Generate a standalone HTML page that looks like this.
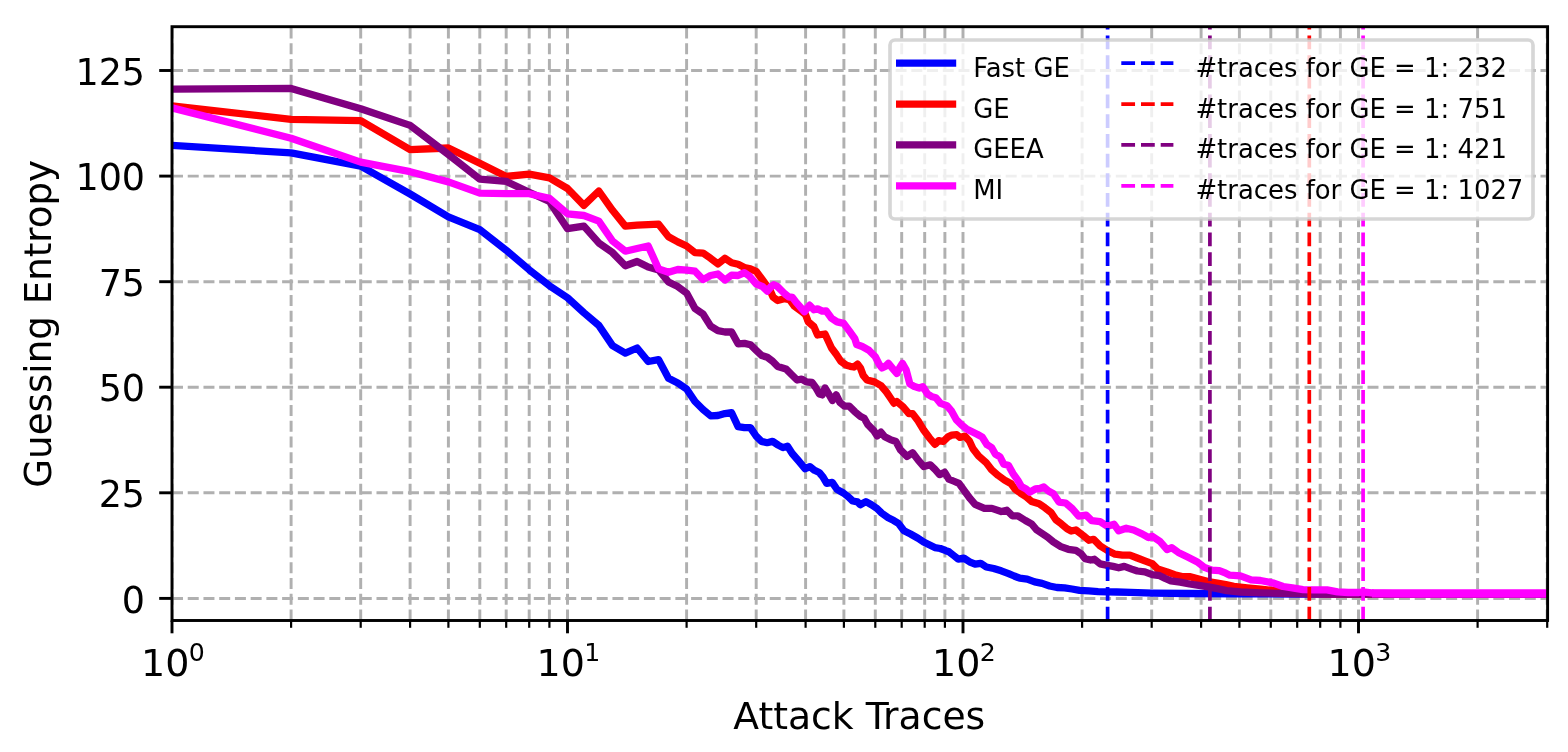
<!DOCTYPE html><html><head><meta charset="utf-8"><title>Guessing Entropy</title>
<style>html,body{margin:0;padding:0;background:#fff}body{width:1568px;height:752px;overflow:hidden}svg{display:block}text{font-family:"DejaVu Sans","Liberation Sans",sans-serif;fill:#000}</style></head><body>
<svg width="1568" height="752" viewBox="0 0 1568 752">
<rect width="1568" height="752" fill="#fff"/>
<defs><clipPath id="ax"><rect x="172.0" y="26.7" width="1375.6" height="593.8"/></clipPath></defs>
<g clip-path="url(#ax)" stroke="#b0b0b0" stroke-width="2.95" stroke-dasharray="11 4.73" fill="none">
<path d="M172.0 620.5V26.7"/>
<path d="M291.1 620.5V26.7"/>
<path d="M360.7 620.5V26.7"/>
<path d="M410.1 620.5V26.7"/>
<path d="M448.4 620.5V26.7"/>
<path d="M479.8 620.5V26.7"/>
<path d="M506.2 620.5V26.7"/>
<path d="M529.2 620.5V26.7"/>
<path d="M549.4 620.5V26.7"/>
<path d="M567.5 620.5V26.7"/>
<path d="M686.6 620.5V26.7"/>
<path d="M756.2 620.5V26.7"/>
<path d="M805.6 620.5V26.7"/>
<path d="M843.9 620.5V26.7"/>
<path d="M875.3 620.5V26.7"/>
<path d="M901.7 620.5V26.7"/>
<path d="M924.7 620.5V26.7"/>
<path d="M944.9 620.5V26.7"/>
<path d="M963.0 620.5V26.7"/>
<path d="M1082.1 620.5V26.7"/>
<path d="M1151.7 620.5V26.7"/>
<path d="M1201.1 620.5V26.7"/>
<path d="M1239.4 620.5V26.7"/>
<path d="M1270.8 620.5V26.7"/>
<path d="M1297.2 620.5V26.7"/>
<path d="M1320.2 620.5V26.7"/>
<path d="M1340.4 620.5V26.7"/>
<path d="M1358.5 620.5V26.7"/>
<path d="M1477.6 620.5V26.7"/>
<path d="M1547.2 620.5V26.7"/>
<path d="M172.0 598.4H1547.6"/>
<path d="M172.0 492.8H1547.6"/>
<path d="M172.0 387.2H1547.6"/>
<path d="M172.0 281.7H1547.6"/>
<path d="M172.0 176.1H1547.6"/>
<path d="M172.0 70.5H1547.6"/>
</g>
<g clip-path="url(#ax)" fill="none" stroke-width="7.3" stroke-linejoin="round" stroke-linecap="butt">
<path d="M172.0 145.4 L291.1 152.9 L360.7 166.1 L410.1 194.0 L448.4 216.8 L479.8 229.6 L506.3 250.3 L529.2 269.8 L549.4 285.7 L567.5 297.8 L583.9 312.7 L598.8 325.4 L612.5 345.6 L625.3 353.1 L637.1 348.0 L648.2 361.5 L658.6 359.6 L668.5 378.2 L677.8 382.9 L686.6 389.0 L695.0 401.5 L703.0 409.5 L710.6 415.8 L717.9 415.5 L724.9 413.6 L731.6 412.7 L738.1 426.6 L744.4 427.6 L750.4 427.6 L755.9 435.8 L761.5 441.4 L767.1 442.7 L772.6 441.4 L778.2 445.1 L782.9 447.6 L787.5 446.1 L792.2 453.5 L798.7 461.0 L805.2 468.8 L809.9 466.6 L814.5 470.3 L819.2 472.5 L822.9 476.8 L826.7 483.3 L832.2 482.4 L836.9 489.3 L843.4 493.0 L848.1 496.7 L852.7 501.0 L857.4 501.9 L860.2 504.7 L865.9 501.6 L871.4 504.7 L877.0 508.5 L881.7 513.1 L888.2 517.8 L893.8 520.6 L898.4 523.4 L904.0 530.8 L910.5 534.0 L918.0 538.2 L923.6 542.0 L929.2 544.8 L934.8 547.6 L940.3 548.5 L945.9 550.7 L949.0 551.8 L953.7 555.5 L958.3 559.2 L963.9 558.1 L969.5 561.8 L975.1 564.2 L980.7 563.3 L986.3 567.0 L993.7 568.5 L1001.2 570.8 L1008.6 573.6 L1014.2 576.0 L1019.8 578.2 L1027.2 579.1 L1034.7 581.9 L1042.1 583.4 L1049.6 586.0 L1057.0 587.5 L1064.6 587.9 L1072.0 589.0 L1079.5 590.3 L1088.8 590.9 L1098.1 591.6 L1107.4 591.8 L1116.7 592.0 L1130.5 592.4 L1152.2 593.1 L1189.5 593.5 L1240.5 593.8 L1300.6 594.0 L1548.0 594.0" stroke="#0000ff"/>
<path d="M172.0 105.9 L291.1 119.3 L360.7 120.6 L410.1 149.7 L448.4 148.0 L479.8 163.3 L506.3 176.4 L529.2 174.1 L549.4 177.8 L567.5 188.5 L583.9 205.4 L598.8 191.0 L612.5 210.3 L625.3 226.1 L637.1 225.2 L648.2 224.6 L658.6 224.2 L668.5 236.7 L677.8 241.9 L686.6 246.0 L695.0 252.6 L703.0 253.1 L710.6 258.3 L717.9 263.9 L724.9 258.3 L731.6 262.8 L738.1 264.3 L744.4 267.6 L750.4 268.9 L756.1 271.3 L762.6 280.0 L770.1 290.3 L772.9 296.8 L777.5 300.5 L784.1 298.7 L789.6 299.6 L794.3 306.1 L801.8 311.7 L805.5 314.5 L808.3 321.9 L813.9 326.6 L817.6 335.0 L825.0 334.0 L831.5 348.0 L836.2 354.3 L840.8 361.2 L846.4 365.3 L850.1 366.3 L853.9 367.0 L857.6 364.2 L860.4 367.9 L863.2 375.4 L867.0 380.0 L874.4 381.9 L881.0 385.6 L886.5 392.1 L890.3 397.7 L894.0 403.3 L896.8 401.5 L903.3 407.0 L908.9 413.6 L912.6 413.6 L918.2 421.0 L923.8 430.3 L929.4 437.8 L935.0 444.3 L938.7 440.6 L943.3 441.5 L948.0 436.8 L951.7 435.2 L956.8 434.7 L960.0 437.4 L964.8 436.1 L969.4 441.0 L973.0 448.7 L978.6 456.0 L986.0 462.4 L991.6 469.8 L998.1 475.4 L1004.6 480.1 L1011.2 483.8 L1014.9 489.0 L1020.5 493.1 L1026.1 496.8 L1031.6 501.5 L1039.1 503.8 L1044.7 507.6 L1051.2 512.7 L1055.9 519.8 L1061.4 523.9 L1067.1 528.8 L1071.2 531.0 L1075.9 530.0 L1083.3 535.6 L1088.9 540.3 L1093.6 539.3 L1100.1 545.9 L1107.5 550.5 L1115.0 554.2 L1122.4 555.2 L1129.9 555.2 L1137.3 558.0 L1144.8 560.8 L1152.2 563.6 L1157.8 569.1 L1167.1 571.9 L1174.6 574.7 L1182.0 576.6 L1189.5 576.6 L1198.8 579.0 L1208.1 581.6 L1217.4 583.1 L1225.8 584.5 L1233.8 586.3 L1247.1 587.8 L1260.5 589.2 L1273.8 590.5 L1286.6 591.8 L1309.3 593.6 L1340.6 594.0 L1548.0 594.0" stroke="#ff0000"/>
<path d="M172.0 89.2 L291.1 88.4 L360.7 108.7 L410.1 125.4 L448.4 154.5 L479.8 179.1 L506.3 181.4 L529.2 192.2 L549.4 201.5 L567.5 228.7 L583.9 226.1 L598.8 242.9 L612.5 252.6 L625.3 265.8 L637.1 261.5 L648.2 267.1 L658.6 269.9 L668.5 282.0 L677.8 286.6 L686.6 293.1 L695.0 308.4 L703.0 314.0 L710.6 326.1 L717.9 330.7 L724.9 332.0 L731.6 332.0 L738.1 343.8 L744.4 343.4 L750.4 344.7 L756.2 350.3 L761.8 355.6 L767.3 357.3 L772.6 361.2 L777.7 366.5 L782.7 368.0 L785.9 368.9 L791.5 374.5 L797.1 380.0 L801.7 379.1 L806.4 381.9 L812.0 382.5 L815.7 387.5 L819.4 394.0 L822.2 394.9 L825.0 388.0 L828.7 394.0 L832.4 400.5 L836.2 394.9 L839.9 402.4 L844.5 406.1 L849.2 406.1 L854.8 411.7 L860.4 416.4 L864.2 418.2 L867.9 424.7 L873.5 430.3 L877.2 435.9 L881.0 432.2 L884.7 436.8 L890.3 439.6 L895.9 441.5 L900.5 449.9 L907.0 456.4 L912.6 452.7 L918.2 460.1 L923.8 466.6 L930.3 464.8 L935.0 469.4 L939.6 474.6 L944.7 472.3 L948.8 479.1 L953.4 481.0 L959.0 483.4 L964.6 491.2 L970.2 498.7 L975.1 504.4 L984.4 508.4 L991.9 508.4 L1001.2 511.5 L1006.8 510.2 L1012.3 515.8 L1017.9 515.8 L1025.4 520.5 L1031.9 524.2 L1036.5 529.8 L1042.1 533.5 L1047.7 537.2 L1053.3 541.9 L1060.8 546.6 L1068.3 549.3 L1075.8 550.3 L1081.3 554.0 L1085.1 558.7 L1090.6 560.0 L1094.4 559.2 L1100.0 563.8 L1107.4 565.3 L1113.1 566.4 L1118.7 567.8 L1124.3 566.4 L1131.7 569.1 L1137.3 571.0 L1144.8 571.9 L1152.2 574.7 L1159.7 575.7 L1165.3 578.5 L1170.9 580.9 L1180.2 582.2 L1189.5 584.0 L1198.8 585.3 L1208.1 586.8 L1217.4 588.7 L1226.7 590.6 L1240.5 592.0 L1260.6 592.8 L1290.6 593.6 L1330.6 594.0 L1548.0 594.0" stroke="#800080"/>
<path d="M172.0 107.9 L291.1 138.2 L360.7 162.1 L410.1 171.7 L448.4 181.9 L479.8 193.1 L506.3 193.7 L529.2 193.7 L549.4 198.3 L567.5 213.8 L583.9 215.5 L598.8 221.1 L612.5 241.0 L625.3 251.2 L637.1 248.5 L648.2 246.0 L658.6 268.9 L668.5 272.3 L677.8 269.5 L686.6 270.2 L695.0 271.2 L703.0 279.6 L710.6 275.5 L717.9 274.0 L724.9 280.1 L731.6 275.1 L738.1 275.5 L744.4 272.6 L749.6 276.3 L756.1 283.8 L762.6 286.6 L767.3 291.2 L771.0 286.6 L773.8 284.7 L777.5 286.6 L785.0 294.0 L788.7 296.8 L792.4 297.4 L796.2 302.4 L804.5 311.7 L807.3 308.0 L809.6 305.2 L813.9 309.8 L817.6 308.9 L822.2 311.1 L826.0 310.8 L831.5 318.2 L837.1 321.9 L843.7 323.4 L850.2 332.2 L854.8 338.7 L856.7 344.5 L862.2 346.5 L868.9 350.2 L875.4 356.8 L879.1 364.2 L881.9 367.9 L885.6 366.1 L888.4 363.3 L892.1 367.9 L896.8 373.5 L899.6 367.9 L902.4 363.3 L906.1 369.8 L909.8 383.8 L914.5 386.6 L919.1 388.0 L922.9 386.6 L927.5 394.0 L932.2 396.8 L935.9 397.7 L940.5 403.4 L946.9 405.6 L951.6 411.2 L956.2 419.6 L961.8 425.1 L966.5 428.9 L972.1 431.7 L977.6 434.5 L982.3 437.2 L987.0 444.7 L991.6 447.5 L995.3 454.0 L1000.0 456.8 L1003.7 464.2 L1008.4 465.2 L1013.0 473.6 L1017.7 480.1 L1021.4 486.6 L1026.1 489.0 L1029.8 492.2 L1035.4 489.0 L1040.0 488.5 L1043.8 487.0 L1048.4 491.0 L1053.4 493.7 L1059.0 502.1 L1065.6 503.0 L1072.2 508.6 L1078.7 516.1 L1086.1 515.1 L1091.7 520.7 L1100.1 521.7 L1107.5 526.3 L1114.1 524.3 L1118.7 530.8 L1126.2 528.2 L1133.6 530.0 L1142.0 533.8 L1148.5 537.5 L1152.2 536.2 L1159.7 541.2 L1167.1 549.6 L1171.8 547.7 L1178.3 552.4 L1187.6 557.0 L1196.9 561.7 L1204.4 567.3 L1211.8 570.1 L1219.3 570.6 L1225.8 573.2 L1229.8 575.2 L1240.4 575.9 L1251.1 579.9 L1260.5 580.5 L1273.8 583.2 L1283.1 586.5 L1292.4 587.8 L1303.0 589.6 L1313.7 589.8 L1327.0 589.8 L1337.6 591.8 L1348.3 592.5 L1358.9 592.5 L1362.9 591.8 L1373.5 593.2 L1393.5 593.6 L1420.6 593.8 L1548.0 593.9" stroke="#ff00ff"/>
<path d="M1372 593.45H1548" stroke="#ff00ff" stroke-width="8.3"/>
</g>
<g clip-path="url(#ax)" fill="none" stroke-width="3.7" stroke-dasharray="13.75 5.95">
<path d="M1107.6 620.5V26.7" stroke="#0000ff"/>
<path d="M1309.3 620.5V26.7" stroke="#ff0000"/>
<path d="M1209.9 620.5V26.7" stroke="#800080"/>
<path d="M1363.1 620.5V26.7" stroke="#ff00ff"/>
</g>
<rect x="172.0" y="26.7" width="1375.6" height="593.8" fill="none" stroke="#000" stroke-width="2.92"/>
<g stroke="#000" fill="none">
<path d="M172.0 620.5v12.8" stroke-width="2.92"/>
<path d="M291.1 620.5v7.3" stroke-width="2.2"/>
<path d="M360.7 620.5v7.3" stroke-width="2.2"/>
<path d="M410.1 620.5v7.3" stroke-width="2.2"/>
<path d="M448.4 620.5v7.3" stroke-width="2.2"/>
<path d="M479.8 620.5v7.3" stroke-width="2.2"/>
<path d="M506.2 620.5v7.3" stroke-width="2.2"/>
<path d="M529.2 620.5v7.3" stroke-width="2.2"/>
<path d="M549.4 620.5v7.3" stroke-width="2.2"/>
<path d="M567.5 620.5v12.8" stroke-width="2.92"/>
<path d="M686.6 620.5v7.3" stroke-width="2.2"/>
<path d="M756.2 620.5v7.3" stroke-width="2.2"/>
<path d="M805.6 620.5v7.3" stroke-width="2.2"/>
<path d="M843.9 620.5v7.3" stroke-width="2.2"/>
<path d="M875.3 620.5v7.3" stroke-width="2.2"/>
<path d="M901.7 620.5v7.3" stroke-width="2.2"/>
<path d="M924.7 620.5v7.3" stroke-width="2.2"/>
<path d="M944.9 620.5v7.3" stroke-width="2.2"/>
<path d="M963.0 620.5v12.8" stroke-width="2.92"/>
<path d="M1082.1 620.5v7.3" stroke-width="2.2"/>
<path d="M1151.7 620.5v7.3" stroke-width="2.2"/>
<path d="M1201.1 620.5v7.3" stroke-width="2.2"/>
<path d="M1239.4 620.5v7.3" stroke-width="2.2"/>
<path d="M1270.8 620.5v7.3" stroke-width="2.2"/>
<path d="M1297.2 620.5v7.3" stroke-width="2.2"/>
<path d="M1320.2 620.5v7.3" stroke-width="2.2"/>
<path d="M1340.4 620.5v7.3" stroke-width="2.2"/>
<path d="M1358.5 620.5v12.8" stroke-width="2.92"/>
<path d="M1477.6 620.5v7.3" stroke-width="2.2"/>
<path d="M1547.2 620.5v7.3" stroke-width="2.2"/>
<path d="M172.0 598.4h-12.8" stroke-width="2.92"/>
<path d="M172.0 492.8h-12.8" stroke-width="2.92"/>
<path d="M172.0 387.2h-12.8" stroke-width="2.92"/>
<path d="M172.0 281.7h-12.8" stroke-width="2.92"/>
<path d="M172.0 176.1h-12.8" stroke-width="2.92"/>
<path d="M172.0 70.5h-12.8" stroke-width="2.92"/>
</g>
<text x="145.1" y="612.5" font-size="36.5" text-anchor="end">0</text>
<text x="145.1" y="506.9" font-size="36.5" text-anchor="end">25</text>
<text x="145.1" y="401.3" font-size="36.5" text-anchor="end">50</text>
<text x="145.1" y="295.8" font-size="36.5" text-anchor="end">75</text>
<text x="145.1" y="190.2" font-size="36.5" text-anchor="end">100</text>
<text x="145.1" y="84.6" font-size="36.5" text-anchor="end">125</text>
<text x="173.0" y="675.6" font-size="38.0" text-anchor="middle">10<tspan dx="-0.6" dy="-14.4" font-size="25.2">0</tspan></text>
<text x="568.5" y="675.6" font-size="38.0" text-anchor="middle">10<tspan dx="-0.6" dy="-14.4" font-size="25.2">1</tspan></text>
<text x="964.0" y="675.6" font-size="38.0" text-anchor="middle">10<tspan dx="-0.6" dy="-14.4" font-size="25.2">2</tspan></text>
<text x="1359.5" y="675.6" font-size="38.0" text-anchor="middle">10<tspan dx="-0.6" dy="-14.4" font-size="25.2">3</tspan></text>
<text x="859.3" y="728.8" font-size="37.7" text-anchor="middle">Attack Traces</text>
<text transform="translate(50.6 323.8) rotate(-90)" font-size="37.2" text-anchor="middle">Guessing Entropy</text>
<rect x="890" y="40" width="643" height="179" rx="5" ry="5" fill="#fff" fill-opacity="0.8" stroke="#ccc" stroke-opacity="0.8" stroke-width="3.65"/>
<path d="M896 63.2H956.2" stroke="#0000ff" stroke-width="7.3" fill="none"/>
<text x="973.2" y="76.7" font-size="25.9">Fast GE</text>
<path d="M1121.3 63.2H1173.4" stroke="#0000ff" stroke-width="3.7" stroke-dasharray="13.75 5.95" fill="none"/>
<text x="1195.4" y="76.7" font-size="25.9">#traces for GE = 1: 232</text>
<path d="M896 104.1H956.2" stroke="#ff0000" stroke-width="7.3" fill="none"/>
<text x="973.2" y="117.5" font-size="25.9">GE</text>
<path d="M1121.3 104.1H1173.4" stroke="#ff0000" stroke-width="3.7" stroke-dasharray="13.75 5.95" fill="none"/>
<text x="1195.4" y="117.5" font-size="25.9">#traces for GE = 1: 751</text>
<path d="M896 144.9H956.2" stroke="#800080" stroke-width="7.3" fill="none"/>
<text x="973.2" y="158.3" font-size="25.9">GEEA</text>
<path d="M1121.3 144.9H1173.4" stroke="#800080" stroke-width="3.7" stroke-dasharray="13.75 5.95" fill="none"/>
<text x="1195.4" y="158.3" font-size="25.9">#traces for GE = 1: 421</text>
<path d="M896 185.8H956.2" stroke="#ff00ff" stroke-width="7.3" fill="none"/>
<text x="973.2" y="199.2" font-size="25.9">MI</text>
<path d="M1121.3 185.8H1173.4" stroke="#ff00ff" stroke-width="3.7" stroke-dasharray="13.75 5.95" fill="none"/>
<text x="1195.4" y="199.2" font-size="25.9">#traces for GE = 1: 1027</text>
</svg></body></html>
